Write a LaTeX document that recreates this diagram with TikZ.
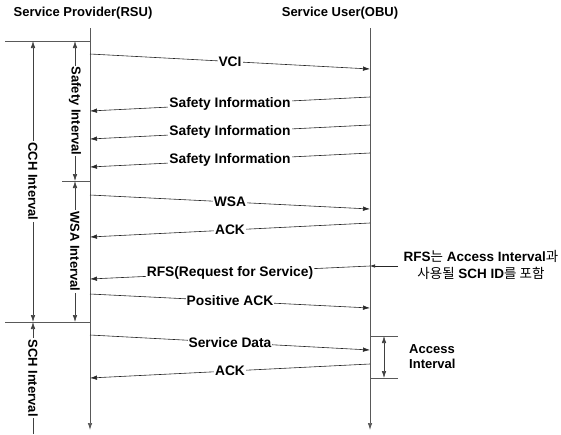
\documentclass[tikz,border=0pt]{standalone}
\usepackage{fontspec}
\setmainfont{Liberation Sans}
\newfontfamily\cjk{Noto Sans CJK KR}
\usepackage{tikz}
\usetikzlibrary{arrows.meta}
\tikzstyle{title} = [font=\fontsize{13}{15}\selectfont\bfseries, inner sep=1pt]
\tikzstyle{lbl} = [font=\fontsize{13.8}{15}\selectfont\bfseries, fill=white,
           inner sep=1pt, text=black]
\tikzstyle{vlbl} = [lbl, font=\fontsize{13}{15}\selectfont\bfseries, rotate=-90]
\tikzstyle{note} = [font=\fontsize{13.5}{16.5}\selectfont, align=center, inner sep=1pt]
\tikzstyle{lifeline} = [draw=black!65, line width=0.7pt]
\tikzstyle{arrow} = [draw=black!85, line width=0.6pt, -{Latex[length=7pt,width=4.5pt]}]
\tikzstyle{dblarrow} = [draw=black!75, line width=0.6pt,
           {Latex[length=7pt,width=4.5pt]}-{Latex[length=7pt,width=4.5pt]}]

\begin{document}
\begin{tikzpicture}[x=1pt, y=-1pt]
\useasboundingbox (0,0) rectangle (561,434);
% lifelines
\node (provider) [title] at (83,13) {Service Provider(RSU)};
\node (user) [title] at (340,13) {Service User(OBU)};
\coordinate (providertop) at (90,28);
\coordinate (providerbot) at (90,430);
\coordinate (usertop) at (370,28);
\coordinate (userbot) at (370,430);
\draw [lifeline, -{Latex[length=7pt,width=4.5pt]}] (providertop) -- (providerbot);
\draw [lifeline, -{Latex[length=7pt,width=4.5pt]}] (usertop) -- (userbot);

% interval marks on the left
\coordinate (cchstart) at (5,41);
\coordinate (cchstartp) at (90,41);
\coordinate (wsastart) at (62,181);
\coordinate (wsastartp) at (90,181);
\coordinate (schstart) at (5,322);
\coordinate (schstartp) at (90,322);
\draw [lifeline] (cchstart) -- (cchstartp);
\draw [lifeline] (wsastart) -- (wsastartp);
\draw [lifeline] (schstart) -- (schstartp);

\coordinate (cchtop) at (33,41);
\coordinate (cchbot) at (33,322);
\coordinate (safetytop) at (75,41);
\coordinate (safetybot) at (75,181);
\coordinate (wsatop) at (75,181);
\coordinate (wsabot) at (75,322);
\coordinate (schtop) at (33,322);
\coordinate (schbot) at (33,434);
\draw [dblarrow] (cchtop) -- node [vlbl] (cchlbl) {CCH Interval} (cchbot);
\draw [dblarrow] (safetytop) -- node [vlbl] (safetylbl) {Safety Interval} (safetybot);
\draw [dblarrow] (wsatop) -- node [vlbl] (wsalbl) {WSA Interval} (wsabot);
\draw [draw=black!75, line width=0.6pt, {Latex[length=7pt,width=4.5pt]}-]
   (schtop) -- node [vlbl] (schlbl) {SCH Interval} (schbot);

% messages
\coordinate (vci-p) at (90,54);
\coordinate (vci-u) at (370,69);
\coordinate (safety1-u) at (370,97);
\coordinate (safety1-p) at (90,111);
\coordinate (safety2-u) at (370,125);
\coordinate (safety2-p) at (90,139);
\coordinate (safety3-u) at (370,153);
\coordinate (safety3-p) at (90,167);
\coordinate (wsa-p) at (90,195);
\coordinate (wsa-u) at (370,209);
\coordinate (ack1-u) at (370,223);
\coordinate (ack1-p) at (90,237);
\coordinate (rfs-u) at (370,266);
\coordinate (rfs-p) at (90,279);
\coordinate (posack-p) at (90,294);
\coordinate (posack-u) at (370,308);
\coordinate (data-p) at (90,335);
\coordinate (data-u) at (370,350);
\coordinate (ack2-u) at (370,364);
\coordinate (ack2-p) at (90,378);
\draw [arrow] (vci-p) -- node [lbl] (vcilbl) {VCI} (vci-u);
\draw [arrow] (safety1-u) -- node [lbl] (safety1lbl) {Safety Information} (safety1-p);
\draw [arrow] (safety2-u) -- node [lbl] (safety2lbl) {Safety Information} (safety2-p);
\draw [arrow] (safety3-u) -- node [lbl] (safety3lbl) {Safety Information} (safety3-p);
\draw [arrow] (wsa-p) -- node [lbl] (wsalbl2) {WSA} (wsa-u);
\draw [arrow] (ack1-u) -- node [lbl] (ack1lbl) {ACK} (ack1-p);
\draw [arrow] (rfs-u) -- node [lbl] (rfslbl) {RFS(Request for Service)} (rfs-p);
\draw [arrow] (posack-p) -- node [lbl] (posacklbl) {Positive ACK} (posack-u);
\draw [arrow] (data-p) -- node [lbl] (datalbl) {Service Data} (data-u);
\draw [arrow] (ack2-u) -- node [lbl] (ack2lbl) {ACK} (ack2-p);

% note on the RFS
\node (rfsnote) [note] at (481,265)
   {\textbf{RFS}{\cjk 는} \textbf{Access Interval}{\cjk 과}\\
    {\cjk 사용될} \textbf{SCH ID}{\cjk 를 포함}};
\coordinate (rfsin) at (398,266);
\draw [draw=black!85, line width=0.6pt, -{Latex[length=5pt,width=3.5pt]}] (rfsin) -- (rfs-u);

% access interval
\coordinate (accstart) at (370,336);
\coordinate (accstartr) at (398,336);
\coordinate (accend) at (370,378);
\coordinate (accendr) at (398,378);
\draw [lifeline] (accstart) -- (accstartr);
\draw [lifeline] (accend) -- (accendr);
\coordinate (acctop) at (384,336);
\coordinate (accbot) at (384,378);
\draw [dblarrow] (acctop) -- (accbot);
\node (acclbl) [title, align=left, anchor=west] at (408,357) {Access\\Interval};
\end{tikzpicture}
\end{document}
